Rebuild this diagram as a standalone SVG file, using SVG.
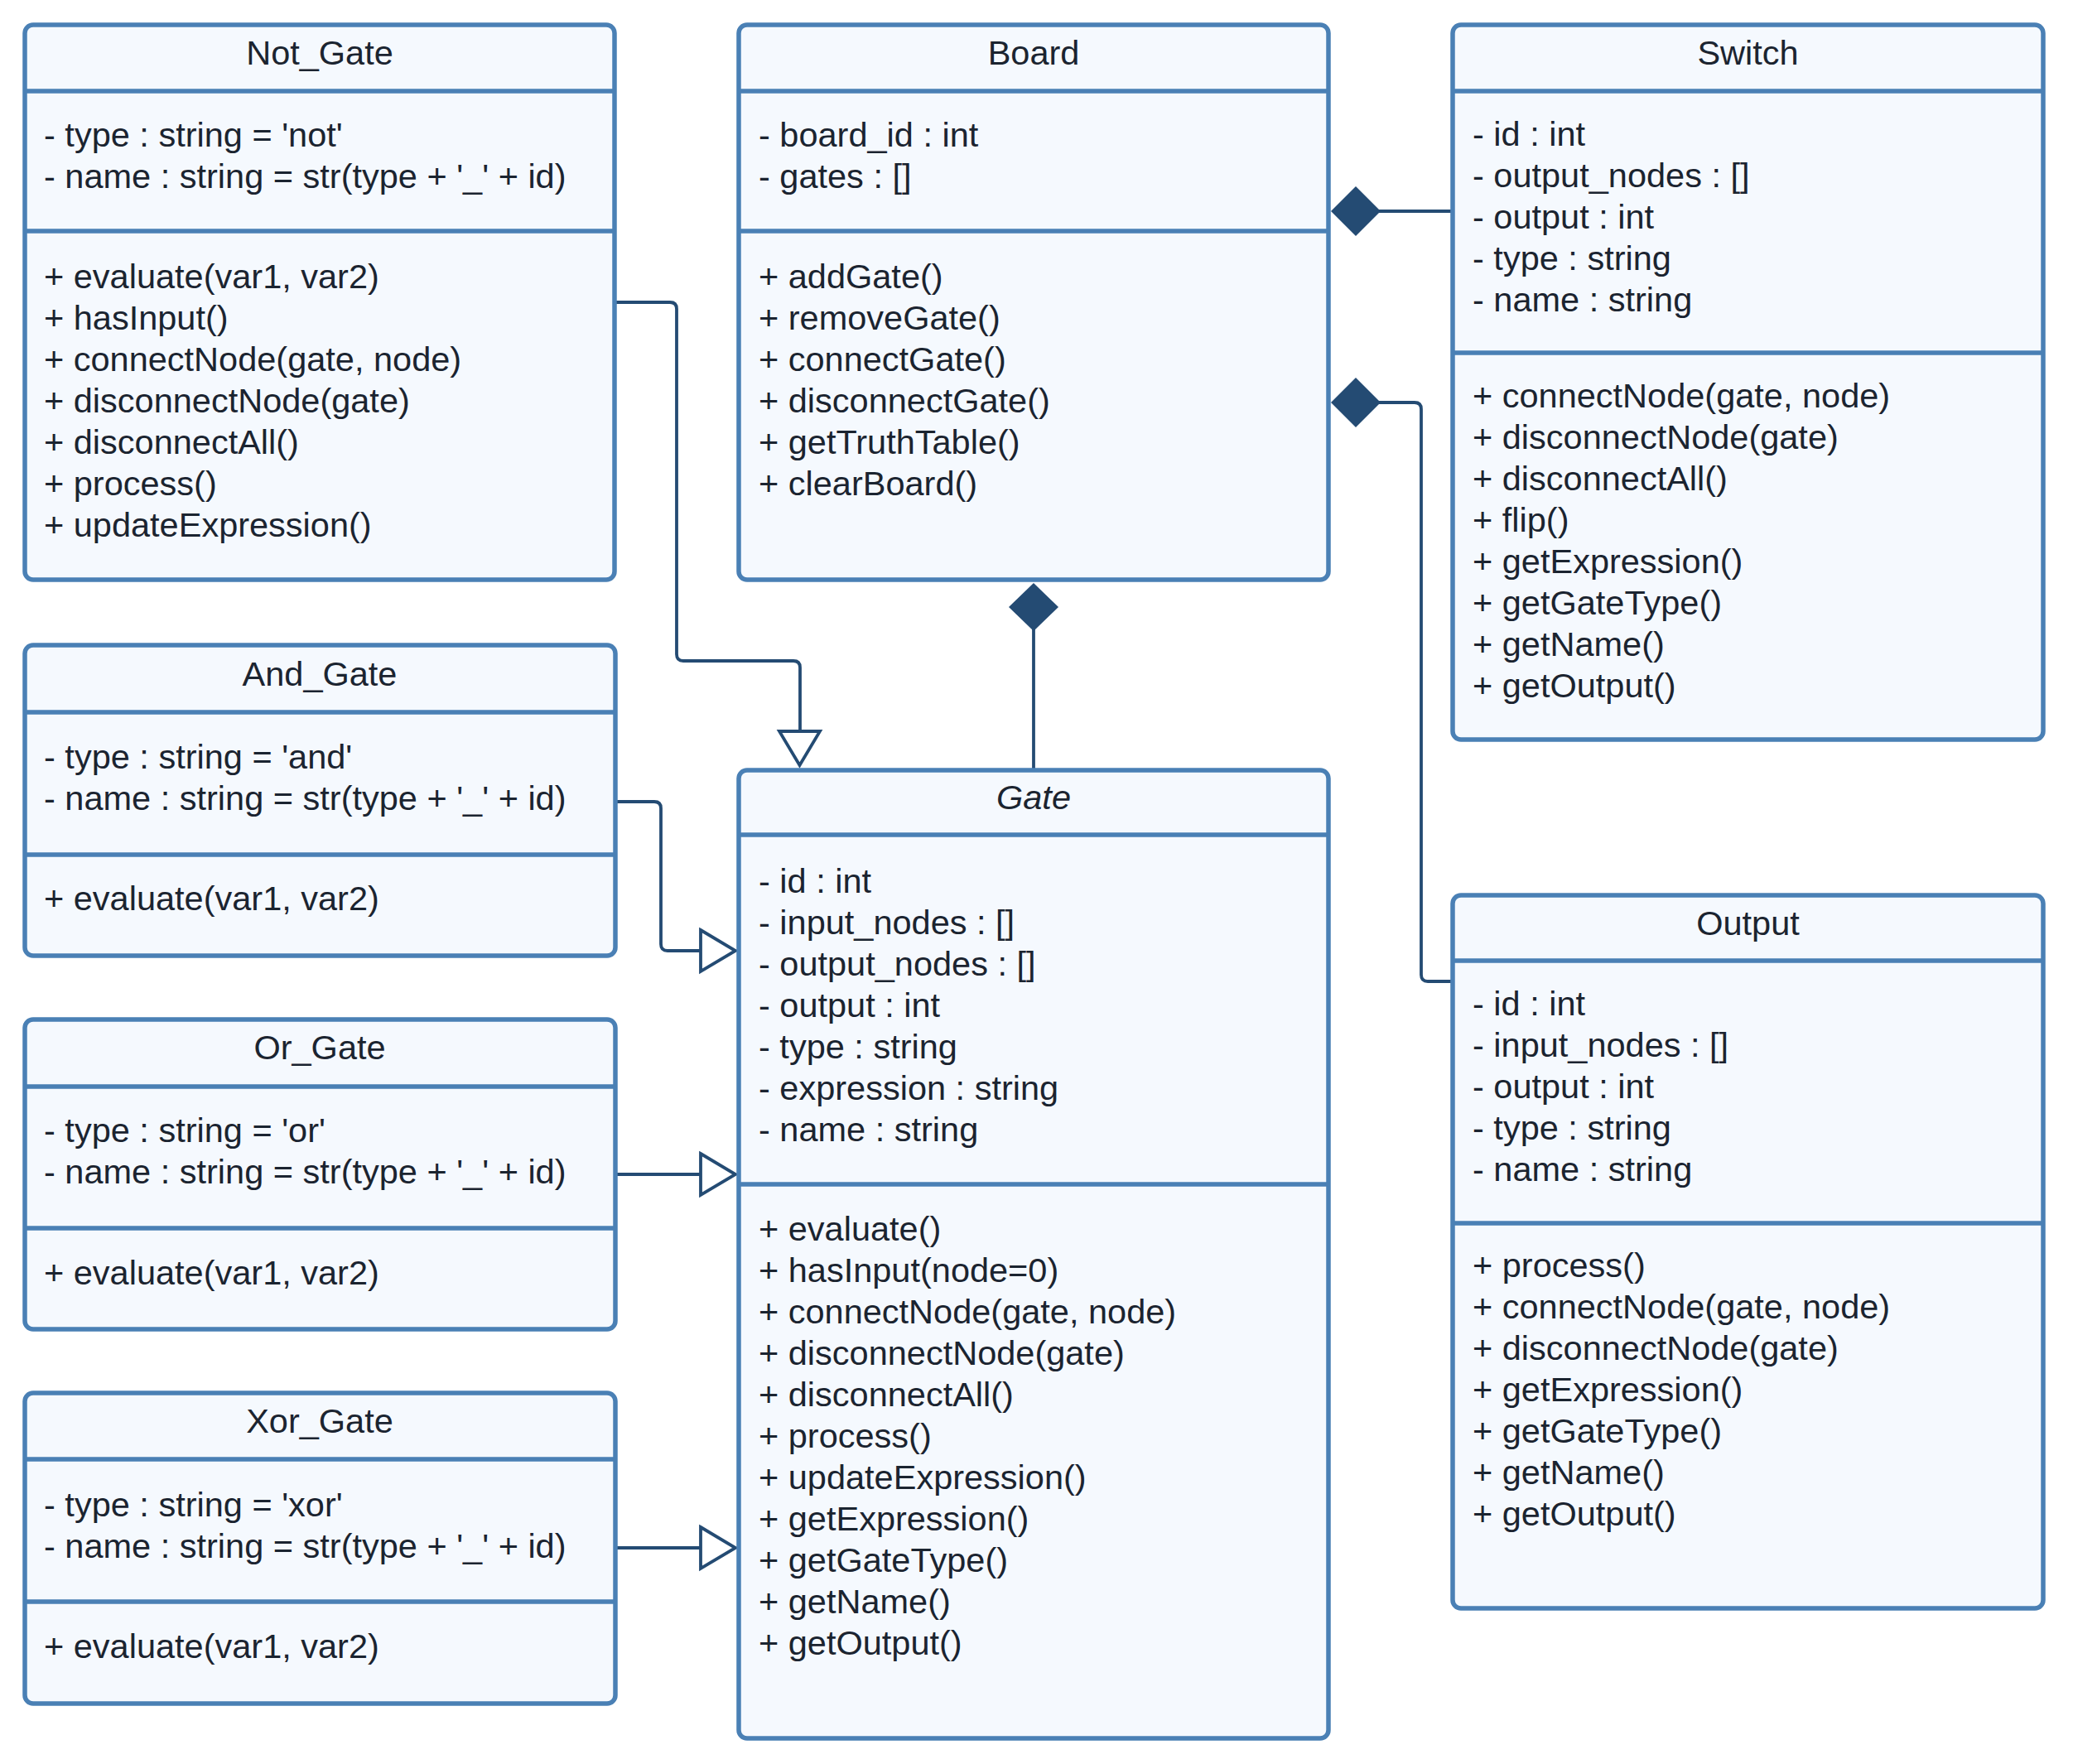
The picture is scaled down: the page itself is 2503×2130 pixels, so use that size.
<svg xmlns="http://www.w3.org/2000/svg" width="2503" height="2130" viewBox="0 0 2503 2130">
<style>
.box{fill:#f5f9fe;stroke:#4a80b5;stroke-width:5.5}
.div{stroke:#4a80b5;stroke-width:5.5;fill:none}
text{font-family:"Liberation Sans",Arial,sans-serif;font-size:41.5px;fill:#1b2430}
.t{text-anchor:middle}
.i{font-style:italic}
.c{fill:none;stroke:#244b73;stroke-width:3.8}
.tri{fill:#ffffff;stroke:#244b73;stroke-width:3.8;stroke-linejoin:miter}
.dia{fill:#244b73;stroke:none}
</style>
<rect width="2503" height="2130" fill="#ffffff"/>

<g id="connectors">
  <path class="c" d="M742,365 H809 Q817,365 817,373 V790 Q817,798 825,798 H958 Q966,798 966,806 V883"/>
  <polygon class="tri" points="941,883 990,883 965.5,924"/>
  <path class="c" d="M743,968 H790 Q798,968 798,976 V1140 Q798,1148 806,1148 H846"/>
  <polygon class="tri" points="846,1123 888,1148 846,1173"/>
  <path class="c" d="M743,1418 H846"/>
  <polygon class="tri" points="846,1393 888,1418 846,1443"/>
  <path class="c" d="M743,1869 H846"/>
  <polygon class="tri" points="846,1844 888,1869 846,1894"/>
  <path class="c" d="M1248,760 V930"/>
  <polygon class="dia" points="1248,704 1278,733 1248,762 1218,733"/>
  <path class="c" d="M1665,255 H1754"/>
  <polygon class="dia" points="1607,255 1637,225 1667,255 1637,285"/>
  <path class="c" d="M1665,486 H1708 Q1716,486 1716,494 V1177 Q1716,1185 1724,1185 H1754"/>
  <polygon class="dia" points="1607,486 1637,456 1667,486 1637,516"/>
</g>

<g id="Not_Gate">
  <rect class="box" x="30" y="30" width="712" height="670" rx="10"/>
  <path class="div" d="M30,110 H742 M30,279 H742"/>
  <text class="t" x="386" y="78">Not_Gate</text>
  <text x="53" y="177">- type : string = 'not'</text>
  <text x="53" y="227">- name : string = str(type + '_' + id)</text>
  <text x="53" y="347.5">+ evaluate(var1, var2)</text>
  <text x="53" y="397.5">+ hasInput()</text>
  <text x="53" y="447.5">+ connectNode(gate, node)</text>
  <text x="53" y="497.5">+ disconnectNode(gate)</text>
  <text x="53" y="547.5">+ disconnectAll()</text>
  <text x="53" y="597.5">+ process()</text>
  <text x="53" y="647.5">+ updateExpression()</text>
</g>

<g id="Board">
  <rect class="box" x="892" y="30" width="712" height="670" rx="10"/>
  <path class="div" d="M892,110 H1604 M892,279 H1604"/>
  <text class="t" x="1248" y="78">Board</text>
  <text x="916" y="177">- board_id : int</text>
  <text x="916" y="227">- gates : []</text>
  <text x="916" y="347.5">+ addGate()</text>
  <text x="916" y="397.5">+ removeGate()</text>
  <text x="916" y="447.5">+ connectGate()</text>
  <text x="916" y="497.5">+ disconnectGate()</text>
  <text x="916" y="547.5">+ getTruthTable()</text>
  <text x="916" y="597.5">+ clearBoard()</text>
</g>

<g id="Switch">
  <rect class="box" x="1754" y="30" width="713" height="863" rx="10"/>
  <path class="div" d="M1754,110 H2467 M1754,426 H2467"/>
  <text class="t" x="2110.5" y="78">Switch</text>
  <text x="1778" y="176">- id : int</text>
  <text x="1778" y="226">- output_nodes : []</text>
  <text x="1778" y="276">- output : int</text>
  <text x="1778" y="326">- type : string</text>
  <text x="1778" y="376">- name : string</text>
  <text x="1778" y="492">+ connectNode(gate, node)</text>
  <text x="1778" y="542">+ disconnectNode(gate)</text>
  <text x="1778" y="592">+ disconnectAll()</text>
  <text x="1778" y="642">+ flip()</text>
  <text x="1778" y="692">+ getExpression()</text>
  <text x="1778" y="742">+ getGateType()</text>
  <text x="1778" y="792">+ getName()</text>
  <text x="1778" y="842">+ getOutput()</text>
</g>

<g id="And_Gate">
  <rect class="box" x="30" y="779" width="713" height="375" rx="10"/>
  <path class="div" d="M30,860 H743 M30,1032 H743"/>
  <text class="t" x="386" y="828">And_Gate</text>
  <text x="53" y="927.5">- type : string = 'and'</text>
  <text x="53" y="977.5">- name : string = str(type + '_' + id)</text>
  <text x="53" y="1099">+ evaluate(var1, var2)</text>
</g>

<g id="Or_Gate">
  <rect class="box" x="30" y="1231" width="713" height="374" rx="10"/>
  <path class="div" d="M30,1312 H743 M30,1483 H743"/>
  <text class="t" x="386" y="1279">Or_Gate</text>
  <text x="53" y="1379">- type : string = 'or'</text>
  <text x="53" y="1429">- name : string = str(type + '_' + id)</text>
  <text x="53" y="1551">+ evaluate(var1, var2)</text>
</g>

<g id="Xor_Gate">
  <rect class="box" x="30" y="1682" width="713" height="375" rx="10"/>
  <path class="div" d="M30,1762 H743 M30,1934 H743"/>
  <text class="t" x="386" y="1730">Xor_Gate</text>
  <text x="53" y="1830.5">- type : string = 'xor'</text>
  <text x="53" y="1880.5">- name : string = str(type + '_' + id)</text>
  <text x="53" y="2001.5">+ evaluate(var1, var2)</text>
</g>

<g id="Gate">
  <rect class="box" x="892" y="930" width="712" height="1169" rx="10"/>
  <path class="div" d="M892,1008 H1604 M892,1430 H1604"/>
  <text class="t i" x="1248" y="977">Gate</text>
  <text x="916" y="1077.5">- id : int</text>
  <text x="916" y="1127.5">- input_nodes : []</text>
  <text x="916" y="1177.5">- output_nodes : []</text>
  <text x="916" y="1227.5">- output : int</text>
  <text x="916" y="1277.5">- type : string</text>
  <text x="916" y="1327.5">- expression : string</text>
  <text x="916" y="1377.5">- name : string</text>
  <text x="916" y="1498">+ evaluate()</text>
  <text x="916" y="1548">+ hasInput(node=0)</text>
  <text x="916" y="1598">+ connectNode(gate, node)</text>
  <text x="916" y="1648">+ disconnectNode(gate)</text>
  <text x="916" y="1698">+ disconnectAll()</text>
  <text x="916" y="1748">+ process()</text>
  <text x="916" y="1798">+ updateExpression()</text>
  <text x="916" y="1848">+ getExpression()</text>
  <text x="916" y="1898">+ getGateType()</text>
  <text x="916" y="1948">+ getName()</text>
  <text x="916" y="1998">+ getOutput()</text>
</g>

<g id="Output">
  <rect class="box" x="1754" y="1081" width="713" height="861" rx="10"/>
  <path class="div" d="M1754,1160 H2467 M1754,1477 H2467"/>
  <text class="t" x="2110.5" y="1129">Output</text>
  <text x="1778" y="1226">- id : int</text>
  <text x="1778" y="1276">- input_nodes : []</text>
  <text x="1778" y="1326">- output : int</text>
  <text x="1778" y="1376">- type : string</text>
  <text x="1778" y="1426">- name : string</text>
  <text x="1778" y="1542">+ process()</text>
  <text x="1778" y="1592">+ connectNode(gate, node)</text>
  <text x="1778" y="1642">+ disconnectNode(gate)</text>
  <text x="1778" y="1692">+ getExpression()</text>
  <text x="1778" y="1742">+ getGateType()</text>
  <text x="1778" y="1792">+ getName()</text>
  <text x="1778" y="1842">+ getOutput()</text>
</g>
</svg>
